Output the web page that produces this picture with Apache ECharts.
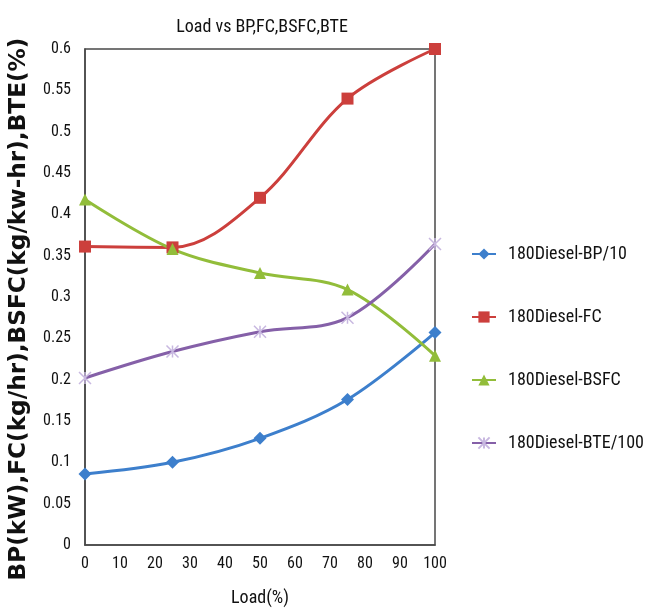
<!DOCTYPE html>
<html>
<head>
<meta charset="utf-8">
<script src="https://cdn.jsdelivr.net/npm/echarts@6/dist/echarts.min.js"></script>
<style>
  html, body { margin: 0; padding: 0; background: #fff; }
  #chart { width: 646px; height: 609px; }
</style>
</head>
<body>
<div id="chart"></div>
<script>
// Engine test readings at each load step
const loads = [0, 25, 50, 75, 100];
const bpOver10 = [0.086, 0.100, 0.129, 0.176, 0.257];
const fuelConsumption = [0.361, 0.360, 0.420, 0.540, 0.600];
const bsfc = [0.418, 0.358, 0.329, 0.309, 0.229];
const bteOver100 = [0.202, 0.234, 0.258, 0.275, 0.364];

const seriesNames = ['180Diesel-BP/10', '180Diesel-FC', '180Diesel-BSFC', '180Diesel-BTE/100'];
const seriesColors = ['#3d7fcc', '#cc3f3c', '#92bd3a', '#8560a8'];

const narrow = 'Roboto Condensed';

function pairs(values) {
  return loads.map((x, i) => [x, values[i]]);
}

function lineSeries(name, values, symbol, size, color, markerColor, markerBorder) {
  return {
    name: name,
    type: 'line',
    smooth: 0.35,
    data: pairs(values),
    symbol: symbol,
    symbolSize: size,
    showSymbol: true,
    lineStyle: { color: color, width: 3 },
    itemStyle: {
      color: markerColor || color,
      borderColor: markerColor || color,
      borderWidth: markerBorder || 0
    },
    emphasis: { disabled: true },
    z: 3
  };
}

const chart = echarts.init(document.getElementById('chart'), null, { renderer: 'canvas' });
chart.setOption({
  animation: false,
  backgroundColor: '#ffffff',
  title: {
    text: 'Load vs BP,FC,BSFC,BTE',
    left: 257,
    textAlign: 'center',
    top: 13,
    textStyle: { fontFamily: narrow, fontSize: 18, fontWeight: 'normal', color: '#111' }
  },
  grid: {
    left: 85, right: 211, top: 49, bottom: 64,
    containLabel: false,
    outerBoundsMode: 'none',
    show: true, borderColor: '#484848', borderWidth: 1.5, backgroundColor: 'transparent'
  },
  legend: {
    orient: 'vertical',
    left: 466,
    top: 240,
    itemGap: 45,
    itemWidth: 24,
    itemHeight: 14,
    data: seriesNames,
    textStyle: { fontFamily: narrow, fontSize: 18, color: '#111', padding: [0, 0, 0, 7] }
  },
  xAxis: {
    type: 'value',
    min: 0,
    max: 100,
    interval: 10,
    name: 'Load(%)',
    nameLocation: 'middle',
    nameGap: 44,
    nameTextStyle: { fontFamily: narrow, fontSize: 18, color: '#111' },
    axisLine: { show: true, lineStyle: { color: '#484848', width: 1.5 } },
    axisTick: { show: false },
    splitLine: { show: false },
    axisLabel: { fontFamily: narrow, fontSize: 16, color: '#111', margin: 11 }
  },
  yAxis: {
    type: 'value',
    min: 0,
    max: 0.6,
    interval: 0.05,
    name: 'BP(kW),FC(kg/hr),BSFC(kg/kw-hr),BTE(%)',
    nameLocation: 'middle',
    nameGap: 55,
    nameTextStyle: {
      fontFamily: 'DejaVu Sans', fontSize: 23.2, fontWeight: 'bold', color: '#111',
      padding: [0, 24, 0, 0]
    },
    axisLine: { show: true, lineStyle: { color: '#484848', width: 1.5 } },
    axisTick: { show: false },
    splitLine: { show: false },
    axisLabel: {
      fontFamily: narrow, fontSize: 16, color: '#111', margin: 14,
      formatter: v => String(parseFloat(v.toFixed(2)))
    }
  },
  series: [
    lineSeries(seriesNames[0], bpOver10, 'diamond', 13, seriesColors[0]),
    lineSeries(seriesNames[1], fuelConsumption, 'rect', 12, seriesColors[1]),
    lineSeries(seriesNames[2], bsfc, 'triangle', 12, seriesColors[2]),
    lineSeries(seriesNames[3], bteOver100,
      'path://M0,0 L10,10 M10,0 L0,10 M5,0 L5,10', 12, seriesColors[3], '#c8b8e0', 1.5)
  ]
});
</script>
</body>
</html>
